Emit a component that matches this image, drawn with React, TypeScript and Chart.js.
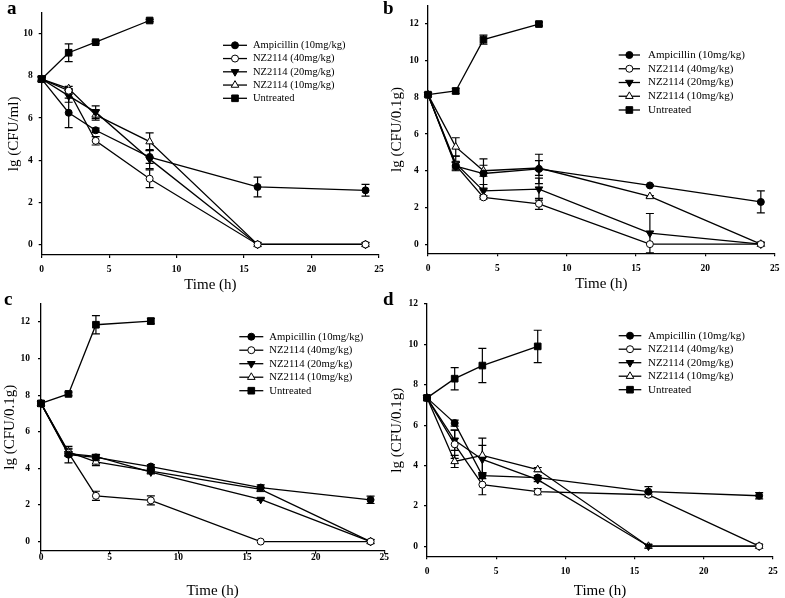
import React, { useEffect, useRef } from "react";
import { Chart, registerables } from "chart.js";

Chart.register(...registerables);

// ---------- data ----------
const TIME = [0, 2, 4, 8, 16, 24];
const TIME_UNTREATED = [0, 2, 4, 8];
const X_TICKS = [0, 5, 10, 15, 20, 25];
const Y_TICKS_A = [0, 2, 4, 6, 8, 10];
const Y_TICKS_BCD = [0, 2, 4, 6, 8, 10, 12];
const SERIES_NAMES = [
  "Ampicillin (10mg/kg)",
  "NZ2114 (40mg/kg)",
  "NZ2114 (20mg/kg)",
  "NZ2114 (10mg/kg)",
  "Untreated",
];

// Panel a
const A_AMP = [7.85, 6.25, 5.42, 4.15, 2.73, 2.57];
const A_AMP_ERR = [0.1, 0.7, 0.1, 0.3, 0.47, 0.28];
const A_NZ40 = [7.85, 7.3, 4.92, 3.12, 0, 0];
const A_NZ40_ERR = [0.1, 0.1, 0.2, 0.42, 0, 0];
const A_NZ20 = [7.85, 7.05, 6.28, 4.05, 0, 0];
const A_NZ20_ERR = [0.1, 0.3, 0.3, 0.45, 0, 0];
const A_NZ10 = [7.85, 7.4, 6.15, 4.88, 0, 0];
const A_NZ10_ERR = [0.1, 0.1, 0.25, 0.42, 0, 0];
const A_UNT = [7.85, 9.1, 9.6, 10.63];
const A_UNT_ERR = [0.15, 0.42, 0.05, 0.05];

// Panel b
const B_AMP = [8.15, 4.25, 3.85, 4.1, 3.2, 2.3];
const B_AMP_ERR = [0.1, 0.2, 0.8, 0.8, 0.05, 0.6];
const B_NZ40 = [8.15, 4.3, 2.55, 2.2, 0, 0];
const B_NZ40_ERR = [0.1, 0.15, 0.1, 0.3, 0, 0];
const B_NZ20 = [8.15, 4.4, 2.9, 3.0, 0.6, 0];
const B_NZ20_ERR = [0.1, 0.4, 0.35, 0.6, 1.07, 0];
const B_NZ10 = [8.15, 5.3, 4.0, 4.15, 2.6, 0];
const B_NZ10_ERR = [0.1, 0.5, 0.3, 0.4, 0.05, 0];
const B_UNT = [8.15, 8.35, 11.15, 12.0];
const B_UNT_ERR = [0.1, 0.15, 0.25, 0.1];

// Panel c
const C_AMP = [7.55, 4.75, 4.6, 4.1, 2.95, 2.28];
const C_AMP_ERR = [0.15, 0.45, 0.15, 0.1, 0.15, 0.2];
const C_NZ40 = [7.55, 4.85, 2.5, 2.25, 0, 0];
const C_NZ40_ERR = [0.15, 0.2, 0.25, 0.25, 0, 0];
const C_NZ20 = [7.55, 4.8, 4.65, 3.8, 2.3, 0];
const C_NZ20_ERR = [0.15, 0.1, 0.1, 0.1, 0.05, 0];
const C_NZ10 = [7.55, 4.9, 4.35, 3.85, 2.85, 0];
const C_NZ10_ERR = [0.15, 0.2, 0.2, 0.1, 0.1, 0];
const C_UNT = [7.55, 8.07, 11.85, 12.05];
const C_UNT_ERR = [0.15, 0.1, 0.5, 0.15];

// Panel d
const D_AMP = [7.35, 6.1, 3.5, 3.4, 2.7, 2.5];
const D_AMP_ERR = [0.1, 0.15, 0.15, 0.1, 0.25, 0.15];
const D_NZ40 = [7.35, 5.05, 3.05, 2.7, 2.55, 0];
const D_NZ40_ERR = [0.1, 0.7, 0.5, 0.15, 0.1, 0];
const D_NZ20 = [7.35, 5.25, 4.3, 3.3, 0, 0];
const D_NZ20_ERR = [0.1, 0.5, 0.7, 0.1, 0, 0];
const D_NZ10 = [7.35, 4.2, 4.5, 3.8, 0, 0];
const D_NZ10_ERR = [0.1, 0.3, 0.85, 0.1, 0, 0];
const D_UNT = [7.35, 8.3, 8.95, 9.9];
const D_UNT_ERR = [0.1, 0.55, 0.85, 0.8];

// ---------- styles ----------
const FONT = "'Liberation Serif', 'Times New Roman', Times, serif";
const LINE_W = 1.3;
const MARKERS = [
  { style: "circle", radius: 3.5, fill: "#000", rotation: 0 },
  { style: "circle", radius: 3.5, fill: "#fff", rotation: 0 },
  { style: "triangle", radius: 4.4, fill: "#000", rotation: 180 },
  { style: "triangle", radius: 4.4, fill: "#fff", rotation: 0 },
  { style: "rect", radius: 4.7, fill: "#000", rotation: 0 },
];

const PANELS = [
  {
    letter: "a", letterPos: { x: 7, y: 14 },
    yTitle: "lg (CFU/ml)", yMin: -0.5, yMax: 11, yTicks: Y_TICKS_A,
    values: [A_AMP, A_NZ40, A_NZ20, A_NZ10, A_UNT],
    errors: [A_AMP_ERR, A_NZ40_ERR, A_NZ20_ERR, A_NZ10_ERR, A_UNT_ERR],
    pad: { left: 5, right: 406, top: 12.7, bottom: 303 },
    yWidth: 36.7, yTickPad: 6, xHeight: 40, xTickPad: 6, xTitlePad: 1,
    legend: { x1: 223, x2: 247, tx: 253, y0: 45.3, dy: 13.25, size: 10.5 },
  },
  {
    letter: "b", letterPos: { x: 383, y: 14 },
    yTitle: "lg (CFU/0.1g)", yMin: -0.5, yMax: 13, yTicks: Y_TICKS_BCD,
    values: [B_AMP, B_NZ40, B_NZ20, B_NZ10, B_UNT],
    errors: [B_AMP_ERR, B_NZ40_ERR, B_NZ20_ERR, B_NZ10_ERR, B_UNT_ERR],
    pad: { left: 388, right: 10.3, top: 5, bottom: 304.7 },
    yWidth: 40, yTickPad: 6.3, xHeight: 40, xTickPad: 6.7, xTitlePad: 0.3,
    legend: { x1: 618.7, x2: 640, tx: 648, y0: 55, dy: 13.75, size: 11 },
  },
  {
    letter: "c", letterPos: { x: 4, y: 305 },
    yTitle: "lg (CFU/0.1g)", yMin: -0.5, yMax: 13, yTicks: Y_TICKS_BCD,
    values: [C_AMP, C_NZ40, C_NZ20, C_NZ10, C_UNT],
    errors: [C_AMP_ERR, C_NZ40_ERR, C_NZ20_ERR, C_NZ10_ERR, C_UNT_ERR],
    pad: { left: 1, right: 400.7, top: 303.7, bottom: 0 },
    yWidth: 40, yTickPad: 8, xHeight: 47.3, xTickPad: -2, xTitlePad: -1.7,
    legend: { x1: 239.3, x2: 263.3, tx: 269.3, y0: 336.7, dy: 13.5, size: 10.7 },
  },
  {
    letter: "d", letterPos: { x: 383, y: 305 },
    yTitle: "lg (CFU/0.1g)", yMin: -0.5, yMax: 12, yTicks: Y_TICKS_BCD,
    values: [D_AMP, D_NZ40, D_NZ20, D_NZ10, D_UNT],
    errors: [D_AMP_ERR, D_NZ40_ERR, D_NZ20_ERR, D_NZ10_ERR, D_UNT_ERR],
    pad: { left: 388, right: 12, top: 304, bottom: 0 },
    yWidth: 39, yTickPad: 6, xHeight: 41.7, xTickPad: 6.2, xTitlePad: -1.7,
    legend: { x1: 618.7, x2: 641.3, tx: 648, y0: 335.7, dy: 13.5, size: 11 },
  },
];

function drawMarker(ctx: CanvasRenderingContext2D, m: any, x: number, y: number) {
  ctx.save();
  ctx.beginPath();
  const r = m.radius;
  if (m.style === "circle") {
    ctx.arc(x, y, r, 0, Math.PI * 2);
  } else if (m.style === "rect") {
    const s = Math.SQRT1_2 * r;
    ctx.rect(x - s, y - s, 2 * s, 2 * s);
  } else {
    let rad = (m.rotation * Math.PI) / 180;
    ctx.moveTo(x + Math.sin(rad) * r, y - Math.cos(rad) * r);
    rad += (2 * Math.PI) / 3;
    ctx.lineTo(x + Math.sin(rad) * r, y - Math.cos(rad) * r);
    rad += (2 * Math.PI) / 3;
    ctx.lineTo(x + Math.sin(rad) * r, y - Math.cos(rad) * r);
    ctx.closePath();
  }
  ctx.fillStyle = m.fill;
  ctx.fill();
  ctx.lineWidth = 1;
  ctx.strokeStyle = "#000";
  ctx.stroke();
  ctx.restore();
}

const errorBarPlugin = {
  id: "errorBars",
  beforeDatasetsDraw(chart: any) {
    const ctx = chart.ctx;
    const xs = chart.scales.x;
    const ys = chart.scales.y;
    ctx.save();
    ctx.strokeStyle = "#000";
    ctx.lineWidth = 1.2;
    chart.data.datasets.forEach((ds: any) => {
      ds.data.forEach((pt: any, j: number) => {
        const e = ds.errors[j];
        if (!e) return;
        const x = xs.getPixelForValue(pt.x);
        const yt = ys.getPixelForValue(pt.y + e);
        const yb = ys.getPixelForValue(pt.y - e);
        ctx.beginPath();
        ctx.moveTo(x, yt);
        ctx.lineTo(x, yb);
        ctx.moveTo(x - 4, yt);
        ctx.lineTo(x + 4, yt);
        ctx.moveTo(x - 4, yb);
        ctx.lineTo(x + 4, yb);
        ctx.stroke();
      });
    });
    ctx.restore();
  },
};

const legendPlugin = {
  id: "lineLegend",
  afterDraw(chart: any, _args: any, opts: any) {
    const ctx = chart.ctx;
    ctx.save();
    chart.data.datasets.forEach((ds: any, i: number) => {
      const y = opts.y0 + i * opts.dy;
      ctx.beginPath();
      ctx.strokeStyle = "#000";
      ctx.lineWidth = LINE_W;
      ctx.moveTo(opts.x1, y);
      ctx.lineTo(opts.x2, y);
      ctx.stroke();
      drawMarker(ctx, MARKERS[i], (opts.x1 + opts.x2) / 2, y);
      ctx.fillStyle = "#000";
      ctx.font = `${opts.size}px ${FONT}`;
      ctx.textBaseline = "middle";
      ctx.textAlign = "left";
      ctx.fillText(ds.label, opts.tx, y);
    });
    ctx.restore();
  },
};

const letterPlugin = {
  id: "panelLetter",
  afterDraw(chart: any, _args: any, opts: any) {
    const ctx = chart.ctx;
    ctx.save();
    ctx.fillStyle = "#000";
    ctx.font = `bold 19px ${FONT}`;
    ctx.textBaseline = "alphabetic";
    ctx.textAlign = "left";
    ctx.fillText(opts.text, opts.x, opts.y);
    ctx.restore();
  },
};

function buildConfig(p: any): any {
  const datasets = p.values.map((vals: number[], i: number) => {
    const times = i === 4 ? TIME_UNTREATED : TIME;
    const m = MARKERS[i];
    return {
      label: SERIES_NAMES[i],
      data: vals.map((v, j) => ({ x: times[j], y: v })),
      errors: p.errors[i],
      borderColor: "#000",
      borderWidth: LINE_W,
      pointStyle: m.style,
      pointRadius: m.radius,
      pointRotation: m.rotation,
      pointBackgroundColor: m.fill,
      pointBorderColor: "#000",
      pointBorderWidth: 1,
      tension: 0,
      fill: false,
      clip: false,
    };
  });
  const tickFont = { family: FONT, size: 9.5, weight: "bold" };
  return {
    type: "line",
    data: { datasets },
    plugins: [errorBarPlugin, legendPlugin, letterPlugin],
    options: {
      responsive: false,
      maintainAspectRatio: false,
      animation: false,
      events: [],
      layout: { padding: p.pad },
      plugins: {
        legend: { display: false },
        tooltip: { enabled: false },
        lineLegend: p.legend,
        panelLetter: { text: p.letter, x: p.letterPos.x, y: p.letterPos.y },
      },
      scales: {
        x: {
          type: "linear",
          min: 0,
          max: 25,
          afterBuildTicks: (s: any) => {
            s.ticks = X_TICKS.map((v) => ({ value: v }));
          },
          afterFit: (s: any) => {
            s.height = p.xHeight;
            s.paddingLeft = 0;
            s.paddingRight = 0;
          },
          grid: { drawOnChartArea: false, drawTicks: true, tickLength: 3, color: "#000", lineWidth: 1.2 },
          border: { display: true, color: "#000", width: 1.3 },
          ticks: { color: "#000", font: tickFont, padding: p.xTickPad, maxRotation: 0, autoSkip: false },
          title: {
            display: true,
            text: "Time (h)",
            color: "#000",
            font: { family: FONT, size: 15 },
            padding: { top: 0, bottom: p.xTitlePad },
          },
        },
        y: {
          type: "linear",
          min: p.yMin,
          max: p.yMax,
          afterBuildTicks: (s: any) => {
            s.ticks = p.yTicks.map((v: number) => ({ value: v }));
          },
          afterFit: (s: any) => {
            s.width = p.yWidth;
            s.paddingTop = 0;
            s.paddingBottom = 0;
          },
          grid: { drawOnChartArea: false, drawTicks: true, tickLength: 3, color: "#000", lineWidth: 1.2 },
          border: { display: true, color: "#000", width: 1.3 },
          ticks: { color: "#000", font: tickFont, padding: p.yTickPad },
          title: {
            display: true,
            text: p.yTitle,
            color: "#000",
            font: { family: FONT, size: 15 },
            padding: { top: 0, bottom: 0 },
          },
        },
      },
    },
  };
}

function PanelCanvas({ panel }: { panel: any }) {
  const ref = useRef<HTMLCanvasElement | null>(null);
  useEffect(() => {
    if (!ref.current) return;
    const chart = new Chart(ref.current, buildConfig(panel));
    return () => chart.destroy();
  }, [panel]);
  return (
    <canvas
      ref={ref}
      width={785}
      height={598}
      style={{ position: "absolute", left: 0, top: 0, width: 785, height: 598 }}
    />
  );
}

export default function App() {
  return (
    <div
      style={{
        position: "fixed",
        left: 0,
        top: 0,
        width: 785,
        height: 598,
        background: "#fff",
        overflow: "hidden",
      }}
    >
      {PANELS.map((p) => (
        <PanelCanvas key={p.letter} panel={p} />
      ))}
    </div>
  );
}
